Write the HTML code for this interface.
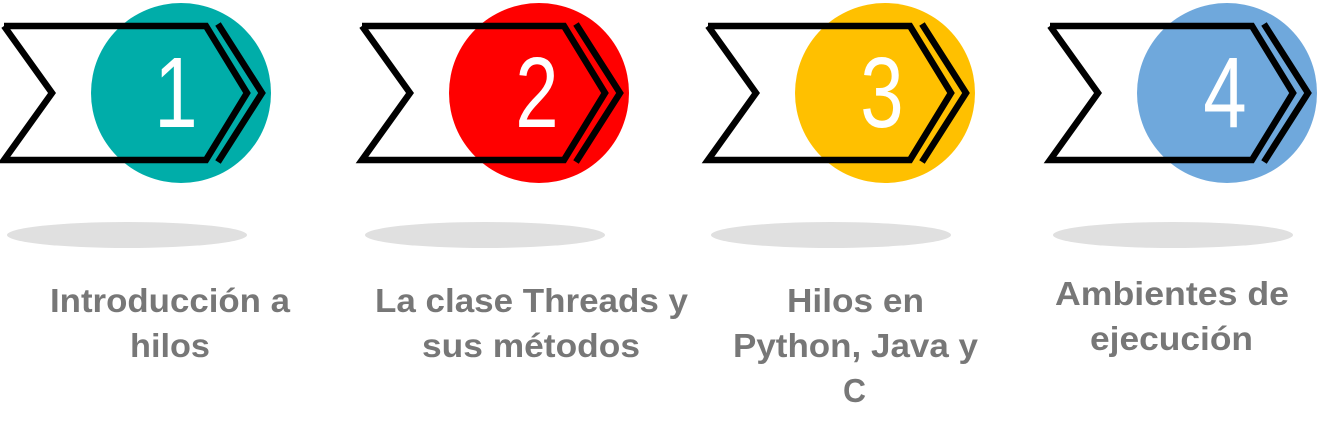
<!DOCTYPE html>
<html><head><meta charset="utf-8"><style>html,body{margin:0;padding:0;background:#fff}svg{display:block}</style></head>
<body>
<svg width="1320" height="435" viewBox="0 0 1320 435" xmlns="http://www.w3.org/2000/svg">
<defs>
<g id="chev">
<polyline points="4,26 206,26 247,93 206,160 4,160 52,93 4,26" fill="none" stroke="#000" stroke-width="6.5" stroke-linejoin="miter"/>
<polyline points="218,24 262,93 218,162" fill="none" stroke="#000" stroke-width="6.5"/>
</g>
</defs>
<g font-family="Liberation Sans, sans-serif">
<ellipse cx="127" cy="235" rx="120" ry="13" fill="#e0e0e0"/>
<circle cx="181" cy="93" r="90" fill="#00ADA9"/>
<use href="#chev"/>
<text transform="translate(176,127) scale(0.78,1)" font-size="100" fill="#fff" text-anchor="middle">1</text>

<ellipse cx="485" cy="235" rx="120" ry="13" fill="#e0e0e0"/>
<circle cx="539" cy="93" r="90" fill="#FF0000"/>
<use href="#chev" x="358"/>
<text transform="translate(537,127) scale(0.78,1)" font-size="100" fill="#fff" text-anchor="middle">2</text>

<ellipse cx="831" cy="235" rx="120" ry="13" fill="#e0e0e0"/>
<circle cx="885" cy="93" r="90" fill="#FFC000"/>
<use href="#chev" x="704"/>
<text transform="translate(882,127) scale(0.78,1)" font-size="100" fill="#fff" text-anchor="middle">3</text>

<ellipse cx="1173" cy="235" rx="120" ry="13" fill="#e0e0e0"/>
<circle cx="1227" cy="93" r="90" fill="#6FA8DC"/>
<use href="#chev" x="1046"/>
<text transform="translate(1225,127) scale(0.78,1)" font-size="100" fill="#fff" text-anchor="middle">4</text>

<g font-weight="bold" font-size="33" fill="#777">
<text x="50" y="312" textLength="240" lengthAdjust="spacingAndGlyphs">Introducción a</text>
<text x="130" y="357" textLength="80" lengthAdjust="spacingAndGlyphs">hilos</text>
<text x="375" y="312" textLength="313" lengthAdjust="spacingAndGlyphs">La clase Threads y</text>
<text x="422" y="357" textLength="218" lengthAdjust="spacingAndGlyphs">sus métodos</text>
<text x="787" y="312" textLength="137" lengthAdjust="spacingAndGlyphs">Hilos en</text>
<text x="733" y="357" textLength="245" lengthAdjust="spacingAndGlyphs">Python, Java y</text>
<text x="843" y="402" textLength="23" lengthAdjust="spacingAndGlyphs">C</text>
<text x="1055" y="305" textLength="234" lengthAdjust="spacingAndGlyphs">Ambientes de</text>
<text x="1090" y="350" textLength="163" lengthAdjust="spacingAndGlyphs">ejecución</text>
</g>
</g>
</svg>
</body></html>
